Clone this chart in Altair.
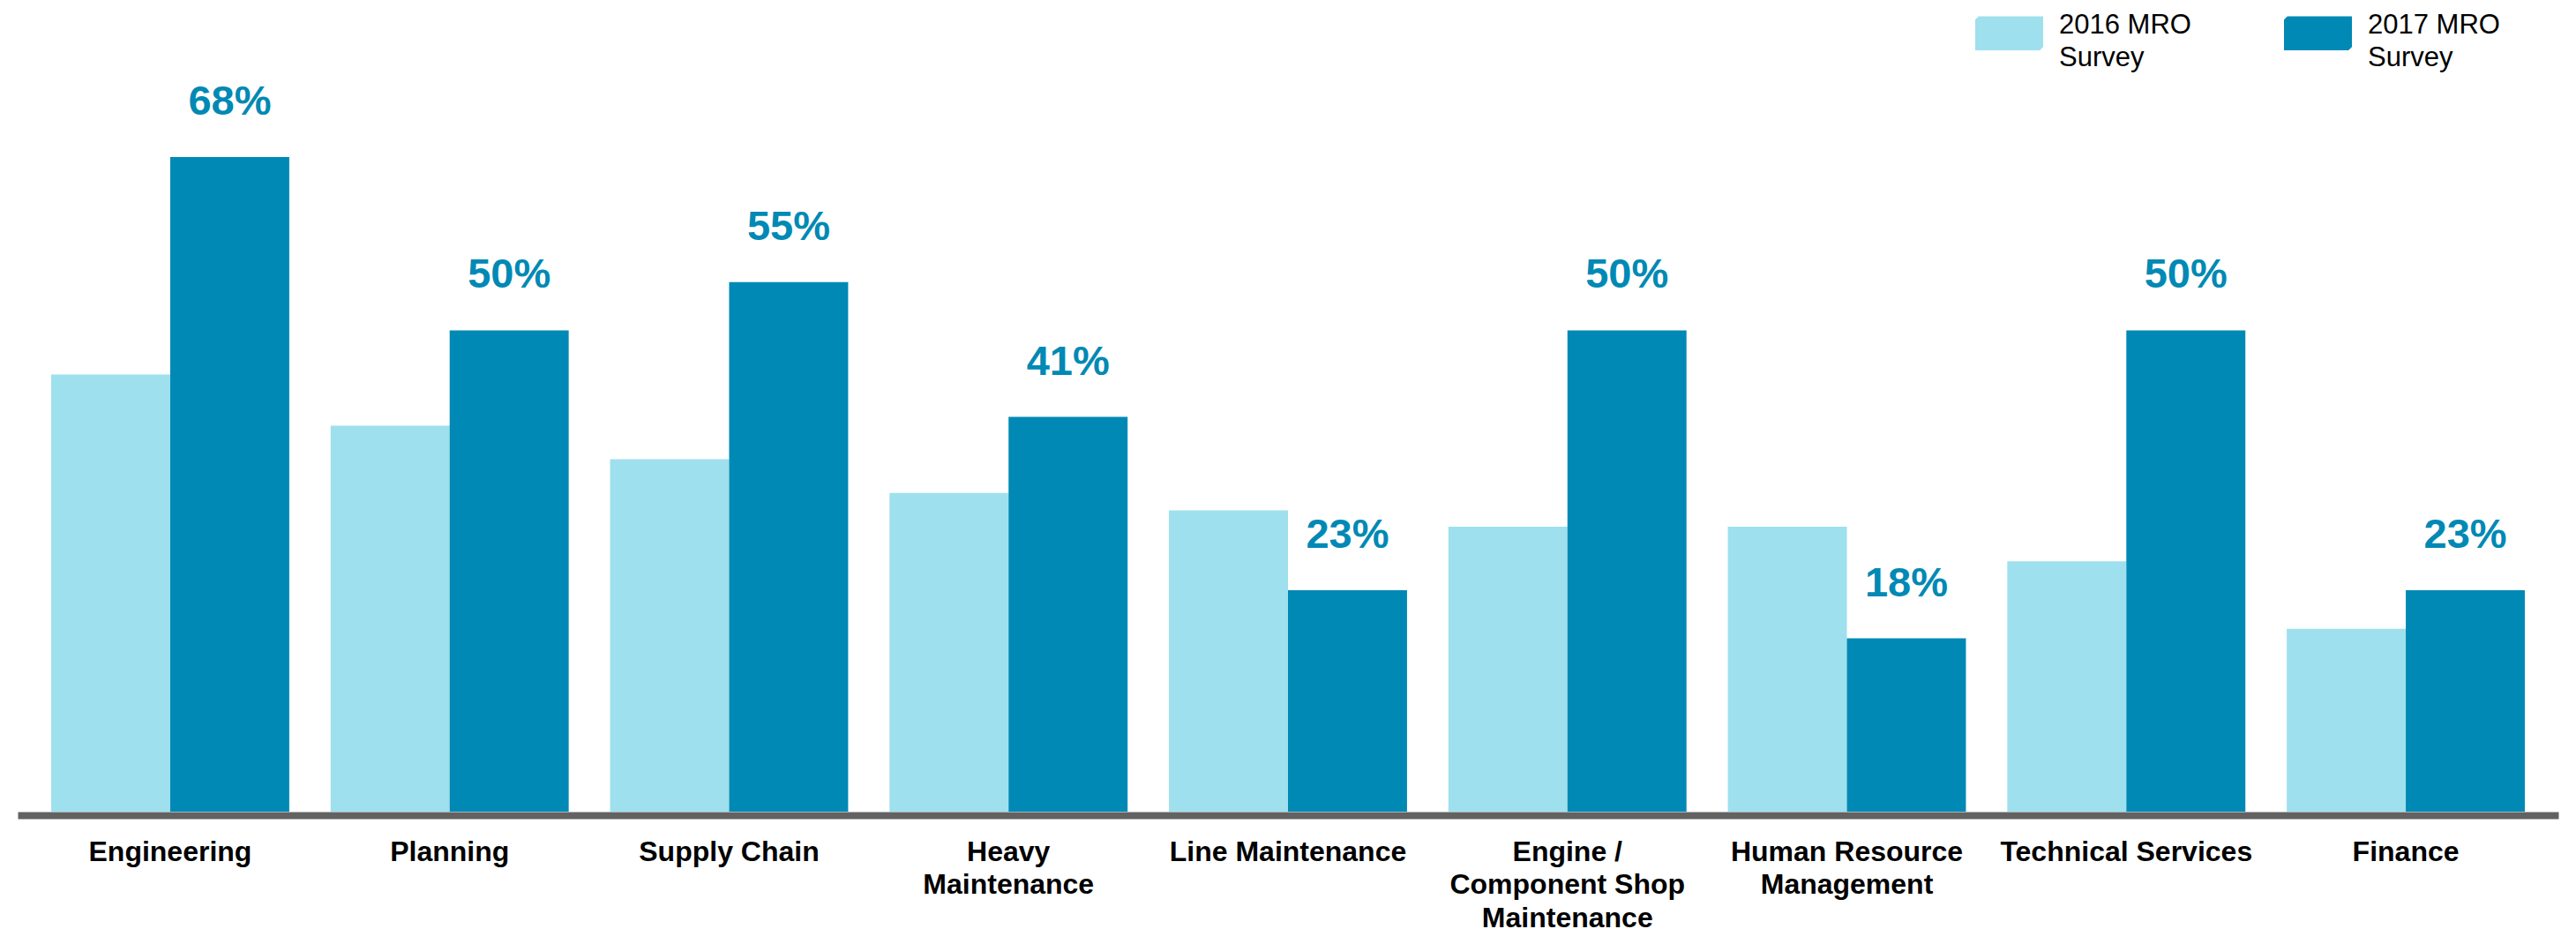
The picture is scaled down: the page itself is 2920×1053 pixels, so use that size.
import altair as alt
import pandas as pd

categories = ["Engineering", "Planning", "Supply Chain", "Heavy|Maintenance", "Line Maintenance",
              "Engine /|Component Shop|Maintenance", "Human Resource|Management",
              "Technical Services", "Finance"]
survey_2016 = [45.4, 40.1, 36.6, 33.1, 31.3, 29.6, 29.6, 26.0, 19.0]
survey_2017 = [68, 50, 55, 41, 23, 50, 18, 50, 23]
series = ["2016 MRO Survey", "2017 MRO Survey"]
colors = ["#9EE0ED", "#0089B4"]

rows = []
for c, a, b in zip(categories, survey_2016, survey_2017):
    rows.append({"category": c, "survey": series[0], "value": a})
    rows.append({"category": c, "survey": series[1], "value": b})
df = pd.DataFrame(rows)

FONT = "Liberation Sans, Arial, sans-serif"
chamfer = "M-0.9,-0.5 L1,-0.5 L1,0.4 L0.9,0.5 L-1,0.5 L-1,-0.4 Z"

x_enc = alt.X(
    "category:N", sort=categories, title=None,
    scale=alt.Scale(paddingInner=0.148, paddingOuter=0.12),
    axis=alt.Axis(
        labelExpr="split(datum.label, '|')", labelAngle=0, labelFont=FONT,
        labelFontWeight="bold", labelFontSize=32, labelColor="#000000",
        labelLineHeight=37.5, labelPadding=26, labelBaseline="top", labelLimit=0,
        ticks=False, domainColor="#626262", domainWidth=8, offset=4, grid=False,
    ),
)
xoff_enc = alt.XOffset("survey:N", sort=series,
                       scale=alt.Scale(domain=series, paddingInner=0, paddingOuter=0))
y_enc = alt.Y("value:Q", scale=alt.Scale(domain=[0, 80], nice=False), axis=None)

bars = alt.Chart(df).mark_bar().encode(
    x=x_enc,
    xOffset=xoff_enc,
    y=y_enc,
    color=alt.Color(
        "survey:N", sort=series,
        scale=alt.Scale(domain=series, range=colors),
        legend=alt.Legend(
            orient="none", legendX=2219, legendY=-48, direction="horizontal",
            title=None, padding=0,
            labelExpr="[slice(datum.label, 0, 8), slice(datum.label, 9)]",
            labelFont=FONT, labelFontSize=31, labelColor="#000000",
            labelBaseline="alphabetic",
            symbolType=chamfer, symbolSize=5929, symbolStrokeWidth=0,
            symbolOpacity=1, labelOffset=18, columnPadding=105, labelLimit=0,
        ),
    ),
)

labels = alt.Chart(df).transform_filter(
    alt.datum.survey == series[1]
).transform_calculate(
    label="datum.value + '%'"
).mark_text(
    font=FONT, fontWeight="bold", fontSize=47, color="#0089B4",
    baseline="alphabetic", dy=-48,
).encode(
    x=x_enc,
    xOffset=xoff_enc,
    y=y_enc,
    text="label:N",
)

chart = alt.layer(bars, labels).properties(
    width=2880, height=873,
    autosize=alt.AutoSizeParams(type="none"),
    padding={"left": 12, "top": 39, "right": 8, "bottom": 136},
).configure(
    background="#ffffff",
    view={"stroke": None},
    style={"guide-label": {"lineHeight": 37}},
)

chart.save("out.html", embed_options={"renderer": "svg", "actions": False})
